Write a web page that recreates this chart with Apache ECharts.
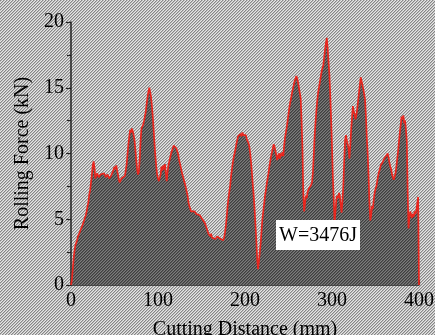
<!DOCTYPE html>
<html><head><meta charset="utf-8">
<script src="https://cdn.jsdelivr.net/npm/echarts@6/dist/echarts.min.js"></script>
<style>html,body{margin:0;padding:0;background:#b4b4b4}#c{width:435px;height:335px}</style>
</head><body><div id="c"></div>
<script>
// Cutting distance (mm)
const distance = [0,1,2,3,4,5,6,7,8,9,10,11,12,13,14,15,16,17,18,19,20,21,22,23,24,25,26,27,28,29,30,32,34,36,38,40,42,44,46,48,50,51,52,53,54,55,56,57,58,60,62,64,65,66,67,68,69,70,71,72,73,74,75,76,77,78,79,80,81,82,83,84,85,86,87,88,89,90,91,92,93,94,95,96,97,98,99,100,101,102,103,104,105,106,107,108,109,110,111,112,113,114,115,116,117,118,119,120,121,122,123,124,125,126,127,128,129,130,131,132,133,134,135,136,137,138,139,140,142,144,146,148,150,152,154,156,158,160,161,162,164,166,168,170,172,174,175,176,177,178,179,180,181,182,183,184,185,186,187,188,189,190,191,192,193,194,195,196,197,198,199,200,201,202,203,204,205,206,207,208,209,210,211,212,213,214,215,216,217,218,219,220,221,222,223,224,225,226,227,228,229,230,231,232,233,234,235,236,237,238,239,240,241,242,243,244,245,246,247,248,249,250,251,252,253,254,255,256,257,258,259,260,261,262,263,264,265,266,267,268,269,270,271,272,273,274,275,276,277,278,279,280,281,282,283,284,285,286,287,288,289,290,291,292,293,294,295,296,297,298,299,300,301,302,303,304,305,306,307,308,309,310,311,312,313,314,315,316,317,318,319,320,321,322,323,324,325,326,327,328,329,330,331,332,333,334,335,336,337,338,339,340,341,342,343,344,345,346,347,348,349,350,351,352,353,354,355,356,357,358,359,360,361,362,363,364,365,366,367,368,369,370,371,372,373,374,375,376,377,378,379,380,381,382,383,384,385,386,387,388,389,390,391,392,393,394,395,396,397,398,399,400,400];
// Rolling force (kN)
const force = [0,0.4,1.2,2.0,2.6,3.0,2.9,3.4,3.7,3.6,4.0,4.2,4.1,4.5,4.6,4.9,4.8,5.3,5.6,6.0,6.3,6.9,7.2,7.8,8.4,9.1,9.4,8.9,8.1,8.3,8.5,8.2,8.4,8.3,8.5,8.2,8.4,8.1,8.3,8.6,9.0,8.8,9.1,8.7,8.4,8.0,7.8,7.9,8.1,8.0,8.3,9.2,10.0,10.7,11.3,11.8,11.6,11.9,11.7,11.4,11.0,10.3,9.5,8.8,8.4,8.6,9.6,11.0,11.9,12.0,12.2,12.5,12.4,13.2,13.8,14.3,14.7,15.0,14.9,14.3,13.6,12.8,11.8,10.7,9.8,9.0,8.4,8.1,7.9,7.8,8.4,9.0,8.7,9.1,8.8,9.2,8.5,7.9,8.6,9.1,9.4,9.7,10.0,10.2,10.4,10.6,10.5,10.7,10.4,10.3,10.0,9.6,9.3,9.0,8.7,8.4,8.2,7.9,7.7,7.4,7.1,6.8,6.3,6.0,5.8,5.6,5.7,5.5,5.6,5.4,5.5,5.3,5.1,4.9,4.7,4.3,3.9,3.7,3.9,3.6,3.7,3.5,3.7,3.6,3.5,3.6,3.4,3.6,4.0,4.5,5.2,6.0,6.6,7.1,7.6,8.3,8.8,9.3,9.7,10.0,10.3,10.7,11.0,11.3,11.4,11.2,11.5,11.3,11.6,11.4,11.5,11.3,11.4,11.1,11.0,10.8,10.5,10.0,9.3,8.5,7.6,6.8,5.8,4.6,3.4,2.0,1.2,1.8,2.5,3.2,4.1,5.0,5.6,6.2,6.8,7.2,7.7,8.1,8.5,9.0,9.4,9.8,10.1,10.4,10.7,10.5,10.2,9.9,9.5,9.8,10.0,9.6,10.0,9.8,10.1,9.8,10.6,11.2,11.6,12.0,12.5,13.0,13.5,13.9,14.2,14.6,14.9,15.2,15.5,15.6,15.9,15.7,15.4,15.0,14.9,14.2,12.5,10.5,7.0,5.6,6.2,6.8,6.6,7.1,7.0,7.4,7.3,7.6,7.8,8.5,9.8,11.3,12.3,13.2,14.0,14.6,15.0,15.4,15.8,16.2,16.5,16.7,17.3,17.9,18.4,18.8,18.0,17.0,16.0,14.4,12.6,10.5,8.2,6.5,4.8,5.6,6.5,6.8,6.6,7.0,6.8,6.1,5.5,6.4,7.5,9.4,11.0,11.4,11.0,10.7,10.4,9.6,10.6,11.8,12.7,13.6,13.2,13.0,12.6,12.9,13.4,14.0,14.6,15.2,15.8,15.5,15.2,14.9,14.5,14.1,12.8,11.2,10.0,8.4,6.3,4.9,5.3,6.0,5.8,6.5,7.0,7.3,7.5,7.9,8.3,8.6,8.8,9.1,9.0,9.3,9.4,9.6,9.5,9.8,9.9,10.0,9.7,9.3,9.0,8.8,8.4,8.2,8.0,8.1,8.5,9.0,9.6,10.2,10.9,11.6,12.2,12.8,12.6,12.9,12.3,12.5,11.8,10.9,7.0,4.3,5.2,5.6,5.3,5.1,5.4,5.2,5.6,5.4,5.7,6.2,6.7,6.6,0];
const xTicks = {min: 0, max: 400, step: 100};
const yTicks = {min: 0, max: 20, step: 5};
const annotationText = 'W=3476J';

function hatch(c0, c1, c2) {
  const cv = document.createElement('canvas');
  cv.width = 3; cv.height = 3;
  const ctx = cv.getContext('2d');
  const cols = [c0, c1, c2];
  for (let x = 0; x < 3; x++) for (let y = 0; y < 3; y++) {
    ctx.fillStyle = cols[(x + y) % 3];
    ctx.fillRect(x, y, 1, 1);
  }
  return cv;
}
const bgPat = hatch('#868686', '#bdbdbd', '#e6e6e6');
const areaPat = hatch('#3e3e3e', '#5c5c5c', '#7c7c7c');

const font = 'Liberation Serif';
const chart = echarts.init(document.getElementById('c'));
chart.setOption({
  animation: false,
  backgroundColor: {image: bgPat, repeat: 'repeat'},
  grid: {left: 71, right: 16, top: 22, bottom: 50, containLabel: false, outerBoundsMode: 'none'},
  xAxis: {
    type: 'value', min: xTicks.min, max: xTicks.max, interval: xTicks.step,
    name: 'Cutting Distance (mm)', nameLocation: 'middle', nameGap: 35,
    nameTextStyle: {fontFamily: font, fontSize: 20, color: '#000'},
    axisLine: {show: true, onZero: false, lineStyle: {color: '#222', width: 1.5}},
    axisTick: {show: true, inside: true, length: 5, lineStyle: {color: '#222', width: 1.2}},
    minorTick: {show: true, splitNumber: 2, length: 4, lineStyle: {color: '#222', width: 1.2}},
    axisLabel: {fontFamily: font, fontSize: 20, color: '#000', margin: 6},
    splitLine: {show: false}
  },
  yAxis: {
    type: 'value', min: yTicks.min, max: yTicks.max, interval: yTicks.step,
    name: 'Rolling Force (kN)', nameLocation: 'middle', nameGap: 24,
    nameTextStyle: {fontFamily: font, fontSize: 20, color: '#000'},
    axisLine: {show: true, lineStyle: {color: '#222', width: 1.5}},
    axisTick: {show: true, inside: false, length: 5, lineStyle: {color: '#222', width: 1.2}},
    minorTick: {show: true, splitNumber: 2, length: 4, lineStyle: {color: '#222', width: 1.2}},
    axisLabel: {fontFamily: font, fontSize: 20, color: '#000', margin: 7},
    splitLine: {show: false}
  },
  series: [{
    type: 'line',
    data: distance.map((d, i) => [d, force[i]]),
    showSymbol: false,
    lineStyle: {color: '#e8261e', width: 1.7},
    areaStyle: {color: {image: areaPat, repeat: 'repeat'}, opacity: 1},
    z: 2
  }],
  graphic: [{
    type: 'group', left: 276, top: 220, z: 100,
    children: [
      {type: 'rect', z: 100, shape: {x: 0, y: 0, width: 84, height: 30}, style: {fill: '#fff'}},
      {type: 'text', z: 101, x: 42, y: 16, style: {text: annotationText, font: '20px "Liberation Serif"', fill: '#000', align: 'center', verticalAlign: 'middle'}}
    ]
  }]
});
</script></body></html>
